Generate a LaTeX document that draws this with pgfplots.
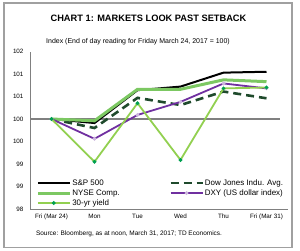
\documentclass[border=0pt]{standalone}
\usepackage{pgfplots}
\pgfplotsset{compat=1.18}
\usepackage{fontspec}
\setmainfont{Liberation Sans}
\definecolor{nyse}{HTML}{7CC862}
\definecolor{dow}{HTML}{1F4A2C}
\definecolor{dxy}{HTML}{7030A0}
\definecolor{yld}{HTML}{92D050}
\definecolor{yldmark}{HTML}{00A050}
\definecolor{frame}{HTML}{A0A0A0}
\begin{document}
\begin{tikzpicture}[x=1bp,y=1bp]
\path[use as bounding box] (0,0) rectangle (300,251);
\draw[frame, line width=1.3bp] (4,3.5) rectangle (292,248);
\node[font=\bfseries\fontsize{9.3}{10}\selectfont] at (148.5,233) {CHART 1: MARKETS LOOK PAST SETBACK};
\node[font=\fontsize{7}{8}\selectfont] at (138,209) {Index (End of day reading for Friday March 24, 2017 = 100)};
\node[font=\fontsize{6.5}{7}\selectfont] at (129,17) {Source: Bloomberg, as at noon, March 31, 2017; TD Economics.};
\begin{axis}[
  at={(30bp,42bp)}, anchor=south west,
  scale only axis, width=258bp, height=157.5bp,
  xmin=-0.5, xmax=5.5, ymin=98, ymax=101.5,
  axis lines=left,
  axis line style={-, draw=gray, line width=0.8bp},
  major tick length=0pt,
  xtick={0,1,2,3,4,5},
  xticklabels={Fri (Mar 24),Mon,Tue,Wed,Thu,Fri (Mar 31)},
  ytick={98,98.5,99,99.5,100,100.5,101,101.5},
  yticklabels={98,99,99,100,100,101,101,102},
  /pgf/number format/assume math mode=true,
  tick label style={font=\fontsize{6.3}{7}\selectfont},
  xticklabel style={yshift=-1.5bp},
  yticklabel style={xshift=-3bp},
  legend columns=2,
  legend cell align=left,
  legend style={at={(0.012,0.21)}, anchor=north west, draw=none, fill=none,
    font=\fontsize{8}{8}\selectfont,
    nodes={inner sep=1bp, text height=6bp, text depth=1.8bp},
    row sep=0.2bp},
  legend image code/.code={\draw[mark repeat=2,mark phase=2,#1] plot coordinates {(0bp,0bp)(16bp,0bp)(32bp,0bp)};},
  clip=false,
]
\addplot[gray, line width=1.6bp, forget plot] coordinates {(-0.5,100) (5.31,100)};
\addplot[black, line width=2bp] coordinates {(0,100) (1,99.91) (2,100.64) (3,100.72) (4,101.03) (5,101.05)};
\addlegendentry{\makebox[96bp][l]{S\&P 500}}
\addplot[dow, line width=2.6bp, dash pattern=on 8bp off 5bp] coordinates {(0,100) (1,99.80) (2,100.47) (3,100.31) (4,100.61) (5,100.46)};
\addlegendentry{Dow Jones Indu. Avg.}
\addplot[nyse, line width=3bp] coordinates {(0,100) (1,99.96) (2,100.66) (3,100.66) (4,100.87) (5,100.83)};
\addlegendentry{\makebox[96bp][l]{NYSE Comp.}}
\addplot[dxy, line width=1.8bp, mark=*, mark size=0.8bp, mark options={draw=dxy!35, fill=dxy!35}] coordinates {(0,100) (1,99.56) (2,100.09) (3,100.38) (4,100.79) (5,100.68)};
\addlegendentry{DXY (US dollar index)}
\addplot[yld, line width=1.8bp, mark=*, mark size=0.8bp, mark options={draw=yldmark, fill=yldmark}] coordinates {(0,100) (1,99.05) (2,100.35) (3,99.09) (4,100.68) (5,100.70)};
\addlegendentry{\makebox[96bp][l]{30-yr yield}}
\end{axis}
\end{tikzpicture}
\end{document}
